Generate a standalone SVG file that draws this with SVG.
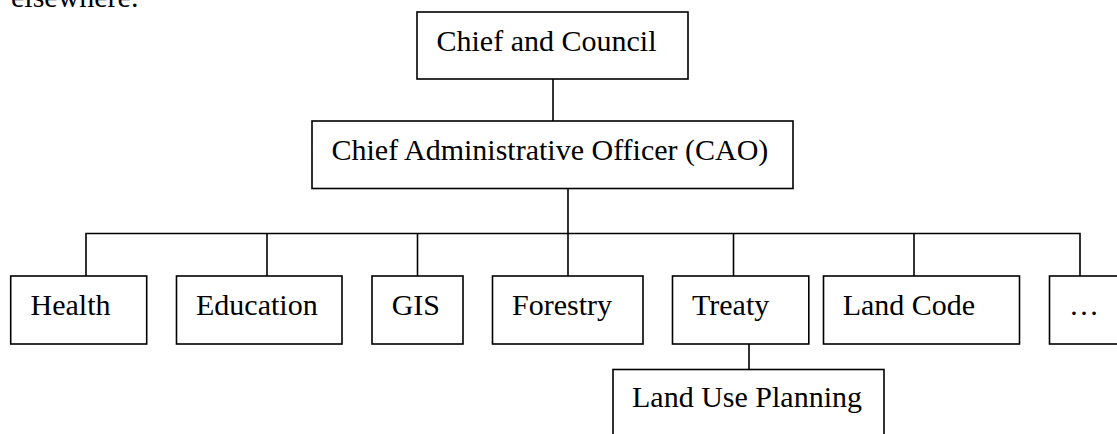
<svg xmlns="http://www.w3.org/2000/svg" width="1117" height="434" viewBox="0 0 1117 434">
  <style>
    .box { fill: #ffffff; stroke: #000000; stroke-width: 1.6; }
    .lbl { font-family: "Liberation Serif", "Times New Roman", serif; font-size: 30px; fill: #000000; }
    .conn { fill: none; stroke: #000000; stroke-width: 1.6; }
  </style>
  <rect width="1117" height="434" fill="#ffffff"/>
  <text class="lbl" x="11" y="6.5">elsewhere.</text>

  <g id="connectors">
    <path class="conn" d="M553,79 V121"/>
    <path class="conn" d="M568,188.5 V233.5"/>
    <path class="conn" d="M86,276 V233.5 H1080 V276"/>
    <path class="conn" d="M267,233.5 V276"/>
    <path class="conn" d="M417.5,233.5 V276"/>
    <path class="conn" d="M568,233.5 V276"/>
    <path class="conn" d="M733.5,233.5 V276"/>
    <path class="conn" d="M914,233.5 V276"/>
    <path class="conn" d="M749,344 V369.5"/>
  </g>

  <g id="chief-council">
    <rect class="box" x="417" y="12" width="271" height="67"/>
    <text class="lbl" x="436.5" y="51">Chief and Council</text>
  </g>
  <g id="cao">
    <rect class="box" x="312" y="121" width="481" height="67.5"/>
    <text class="lbl" x="331.5" y="159.5">Chief Administrative Officer (CAO)</text>
  </g>
  <g id="health">
    <rect class="box" x="10.7" y="276" width="136" height="68"/>
    <text class="lbl" x="30.5" y="314.5">Health</text>
  </g>
  <g id="education">
    <rect class="box" x="176.5" y="276" width="165.5" height="68"/>
    <text class="lbl" x="196" y="314.5">Education</text>
  </g>
  <g id="gis">
    <rect class="box" x="372" y="276" width="91" height="68"/>
    <text class="lbl" x="391.7" y="314.5">GIS</text>
  </g>
  <g id="forestry">
    <rect class="box" x="492.5" y="276" width="150.5" height="68"/>
    <text class="lbl" x="512" y="314.5">Forestry</text>
  </g>
  <g id="treaty">
    <rect class="box" x="672.5" y="276" width="136.3" height="68"/>
    <text class="lbl" x="692" y="314.5">Treaty</text>
  </g>
  <g id="land-code">
    <rect class="box" x="823.5" y="276" width="196" height="68"/>
    <text class="lbl" x="842.7" y="314.5">Land Code</text>
  </g>
  <g id="more">
    <rect class="box" x="1049.5" y="276" width="80" height="68"/>
    <text class="lbl" x="1069" y="314.5">…</text>
  </g>
  <g id="land-use-planning">
    <rect class="box" x="613" y="369.5" width="271" height="80"/>
    <text class="lbl" x="632" y="407">Land Use Planning</text>
  </g>
</svg>
